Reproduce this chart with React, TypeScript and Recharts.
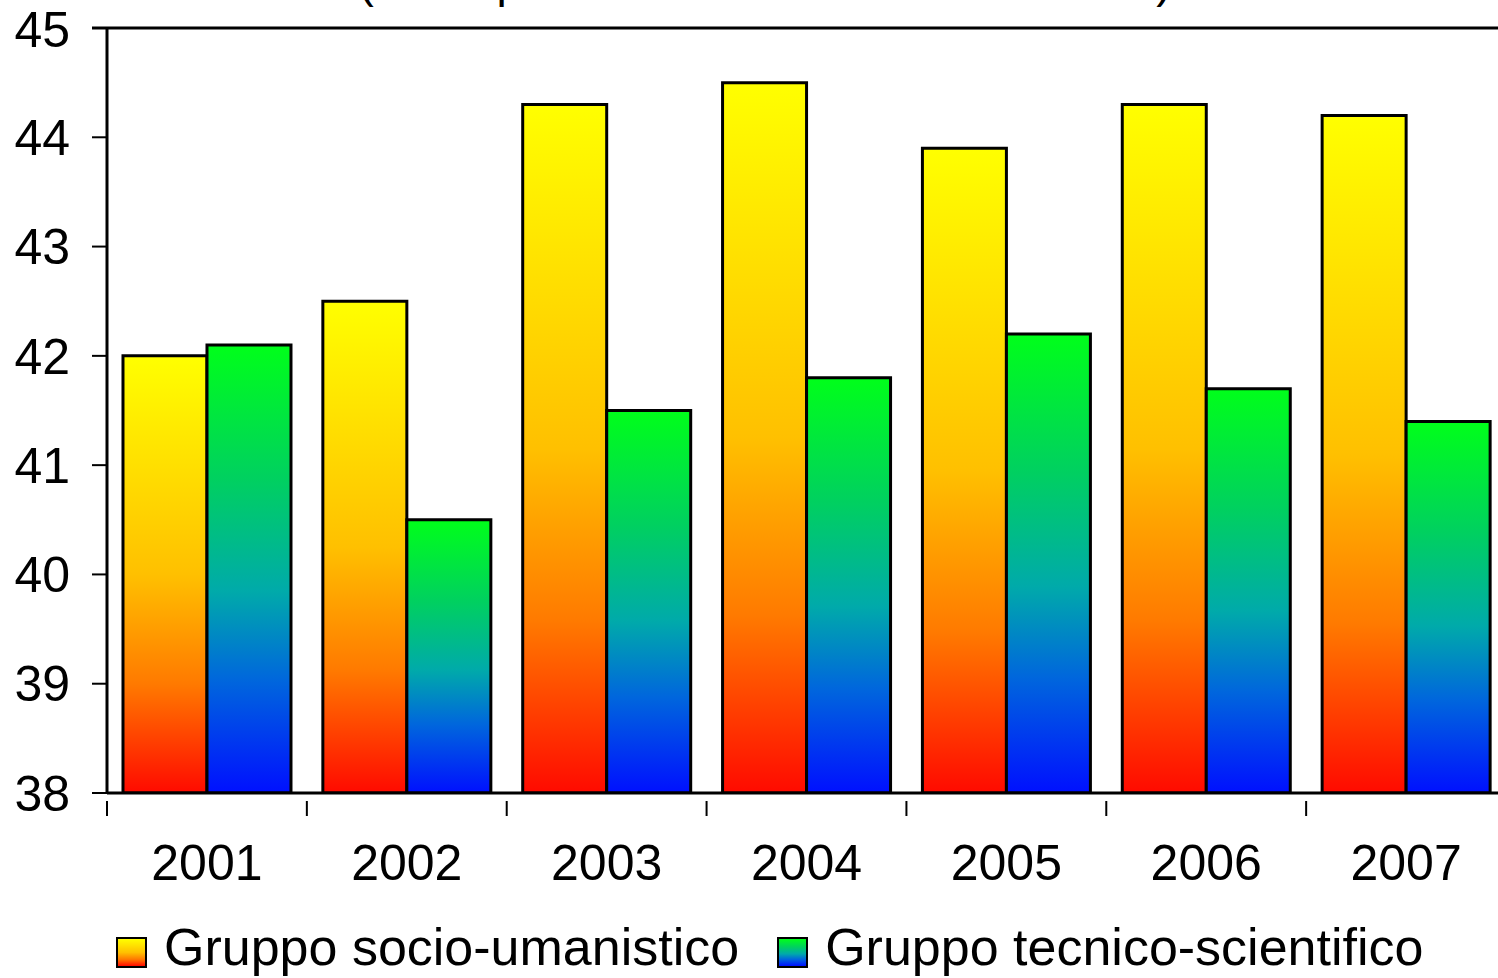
import React from "react";
import { BarChart, Bar, XAxis, YAxis, Legend } from "recharts";

const years = ["2001", "2002", "2003", "2004", "2005", "2006", "2007"];
const socioUmanistico = [42.0, 42.5, 44.3, 44.5, 43.9, 44.3, 44.2];
const tecnicoScientifico = [42.1, 40.5, 41.5, 41.8, 42.2, 41.7, 41.4];
const yTicks = [38, 39, 40, 41, 42, 43, 44, 45];

const SERIES = [
  {
    key: "socio",
    name: "Gruppo socio-umanistico",
    grad: "gradSocio",
    css: "linear-gradient(#ffff00, #ffc000 50%, #ff7a00 75%, #ff0a00)",
  },
  {
    key: "tecnico",
    name: "Gruppo tecnico-scientifico",
    grad: "gradTecnico",
    css: "linear-gradient(#00ff1a, #00d060 30%, #00aaaa 55%, #0066dd 75%, #0010ff)",
  },
];

const data = years.map((y, i) => ({
  year: y,
  socio: socioUmanistico[i],
  tecnico: tecnicoScientifico[i],
}));

const FONT = "Arial, 'Liberation Sans', sans-serif";

// x label at band centre, tick mark at the band's left edge
const YearTick = (props: any) => {
  const { x, y, payload, width, visibleTicksCount } = props;
  const band = width / visibleTicksCount;
  return (
    <g>
      <line x1={x - band / 2} x2={x - band / 2} y1={y} y2={y + 15} stroke="#000" strokeWidth={2} />
      <text x={x} y={y + 79} textAnchor="middle" fontSize={50} fill="#000" fontFamily={FONT}>
        {payload.value}
      </text>
    </g>
  );
};

const renderLegend = () => (
  <div
    style={{
      height: 75,
      display: "flex",
      alignItems: "flex-end",
      fontFamily: FONT,
      fontSize: 52,
      color: "#000",
    }}
  >
    {SERIES.map((s, i) => (
      <div key={s.key} style={{ display: "flex", alignItems: "center", marginLeft: i ? 38 : 0 }}>
        <div
          style={{
            width: 27,
            height: 27,
            border: "2px solid #000",
            background: s.css,
            marginRight: 17,
            marginTop: 10,
          }}
        />
        <span style={{ lineHeight: "62px", whiteSpace: "nowrap" }}>{s.name}</span>
      </div>
    ))}
  </div>
);

export default function App() {
  return (
    <div
      style={{
        position: "fixed",
        top: 0,
        left: 0,
        width: 1498,
        height: 978,
        overflow: "hidden",
        background: "#fff",
      }}
    >
      <BarChart
        width={1520}
        height={978}
        data={data}
        margin={{ top: 28, right: 14, left: 0, bottom: 0 }}
        barCategoryGap="8%"
        barGap={0}
      >
        <defs>
          <linearGradient id="gradSocio" x1="0" y1="0" x2="0" y2="1">
            <stop offset="0%" stopColor="#ffff00" />
            <stop offset="50%" stopColor="#ffc000" />
            <stop offset="75%" stopColor="#ff7a00" />
            <stop offset="100%" stopColor="#ff0a00" />
          </linearGradient>
          <linearGradient id="gradTecnico" x1="0" y1="0" x2="0" y2="1">
            <stop offset="0%" stopColor="#00ff1a" />
            <stop offset="30%" stopColor="#00d060" />
            <stop offset="55%" stopColor="#00aaaa" />
            <stop offset="75%" stopColor="#0066dd" />
            <stop offset="100%" stopColor="#0010ff" />
          </linearGradient>
        </defs>
        <text x={765} y={-3} textAnchor="middle" fontSize={46} fontFamily={FONT} fill="#000">
          (valori percentuali sul totale dei laureati)
        </text>
        <line x1={92} x2={1520} y1={28} y2={28} stroke="#000" strokeWidth={3} />
        <XAxis
          dataKey="year"
          height={110}
          tickLine={false}
          axisLine={{ stroke: "#000", strokeWidth: 3 }}
          tick={<YearTick />}
          interval={0}
        />
        <YAxis
          domain={[38, 45]}
          ticks={yTicks}
          width={107}
          tickSize={15}
          tickMargin={22}
          axisLine={{ stroke: "#000", strokeWidth: 3 }}
          tickLine={{ stroke: "#000", strokeWidth: 2 }}
          tick={{ fontSize: 50, fill: "#000", fontFamily: FONT }}
          allowDataOverflow
        />
        {SERIES.map((s) => (
          <Bar
            key={s.key}
            dataKey={s.key}
            name={s.name}
            fill={`url(#${s.grad})`}
            stroke="#000"
            strokeWidth={3}
            isAnimationActive={false}
          />
        ))}
        <Legend
          verticalAlign="bottom"
          content={renderLegend}
          wrapperStyle={{ left: 116, bottom: 0, width: "auto" }}
        />
      </BarChart>
    </div>
  );
}
